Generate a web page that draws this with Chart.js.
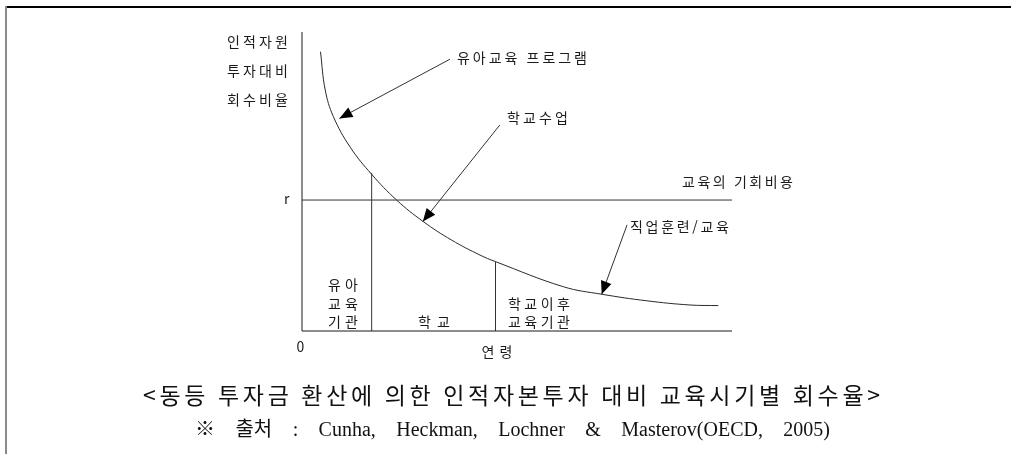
<!DOCTYPE html>
<html lang="ko">
<head>
<meta charset="utf-8">
<title>동등 투자금 환산에 의한 인적자본투자 대비 교육시기별 회수율</title>
<script src="https://cdn.jsdelivr.net/npm/chart.js@4/dist/chart.umd.min.js"></script>
<style>
  html, body { margin: 0; padding: 0; background: #fff; }
  #wrap { position: relative; width: 1011px; height: 454px; }
</style>
</head>
<body>
<div id="wrap"><canvas id="chart"></canvas></div>
<script>
// 연령(x) / 회수비율(y) : 0~100 임의 단위, 그림에서 읽은 값
const curveAge = [4.3, 5.4, 7.3, 11.2, 16.2, 22.0, 28.2, 34.8, 41.4, 45.0, 60.8, 69.7, 80.2, 90.2, 96.8];
const curveReturn = [93.4, 80.6, 71.7, 61.5, 52.4, 43.8, 36.6, 30.4, 25.4, 23.2, 14.8, 12.3, 10.1, 8.7, 8.5];

const opportunityCost = 43.8;           // r
const stageBounds = [16.2, 45.0];       // 유아교육기관 | 학교 | 학교이후
const stageBoundTops = [52.9, 23.2];

const arrowTails = [[34.4, 90.9], [46.0, 68.9], [75.6, 35.5]];
const arrowTips = [[8.7, 71.1], [28.1, 36.6], [69.7, 12.3]];
const arrowLabels = ['유아교육 프로그램', '학교수업', '직업훈련/교육'];

const yTitle = ['인적자원', '투자대비', '회수비율'];
const xTitle = '연령';
const rLabel = 'r';
const rLineLabel = '교육의 기회비용';
const stageLabels = [['유아', '교육', '기관'], ['학교'], ['학교이후', '교육기관']];
const caption = '<동등 투자금 환산에 의한 인적자본투자 대비 교육시기별 회수율>';
const source = '※ 출처 : Cunha, Heckman, Lochner & Masterov(OECD, 2005)';

const AX_MAX = 100;
const ink = '#1a1a1a';
const plotFont = '14px "Noto Sans CJK KR", sans-serif';

const line = (pts, color, extra) => Object.assign({
    data: pts,
    showLine: true,
    borderColor: color,
    borderWidth: 1,
    pointRadius: 0,
    tension: 0,
    clip: false
}, extra || {});

const datasets = [
    // axes
    line([{x: 0, y: 0}, {x: 0, y: AX_MAX}], ink),
    line([{x: 0, y: 0}, {x: AX_MAX, y: 0}], ink),
    // r (교육의 기회비용)
    line([{x: 0, y: opportunityCost}, {x: AX_MAX, y: opportunityCost}], '#333'),
    // 단계 구분선
    ...stageBounds.map((b, i) => line([{x: b, y: 0}, {x: b, y: stageBoundTops[i]}], '#333')),
    // 회수율 곡선
    line(curveAge.map((a, i) => ({x: a, y: curveReturn[i]})), '#2a2a2a', {tension: 0.4})
];
const firstArrow = datasets.length;
arrowTails.forEach((t, i) => {
    datasets.push(line([{x: t[0], y: t[1]}, {x: arrowTips[i][0], y: arrowTips[i][1]}], '#333'));
});

// draw text so that it spans w pixels (by letter or word spacing)
function put(ctx, text, x, y, w, font, align, byWord) {
    ctx.font = font;
    ctx.letterSpacing = '0px';
    ctx.wordSpacing = '0px';
    const m = ctx.measureText(text).width;
    if (w && text.length > 1) {
        if (byWord) {
            const gaps = text.split(' ').length - 1;
            ctx.wordSpacing = ((w - m) / gaps) + 'px';
        } else {
            ctx.letterSpacing = ((w - m) / (text.length - 1)) + 'px';
        }
    } else {
        w = m;
    }
    const left = align === 'center' ? x - w / 2 : x;
    ctx.textAlign = 'left';
    ctx.textBaseline = 'middle';
    ctx.fillText(text, left, y);
    ctx.letterSpacing = '0px';
    ctx.wordSpacing = '0px';
}

const decor = {
    id: 'decor',
    beforeDraw(chart) {
        const ctx = chart.ctx;
        ctx.save();
        ctx.fillStyle = '#fff';
        ctx.fillRect(0, 0, chart.width, chart.height);
        // frame
        ctx.fillStyle = '#000';
        ctx.fillRect(5, 6, chart.width - 5, 2);
        ctx.fillStyle = '#8a8a8a';
        ctx.fillRect(5, 6, 2, chart.height - 6);
        ctx.restore();
    },
    afterDatasetsDraw(chart) {
        const ctx = chart.ctx;
        ctx.save();
        // arrow heads
        ctx.fillStyle = '#000';
        for (let i = 0; i < arrowTips.length; i++) {
            const pts = chart.getDatasetMeta(firstArrow + i).data;
            const a = pts[0], b = pts[1];
            const ang = Math.atan2(b.y - a.y, b.x - a.x);
            const L = 13, H = 5.5;
            ctx.beginPath();
            ctx.moveTo(b.x, b.y);
            ctx.lineTo(b.x - L * Math.cos(ang) + H * Math.sin(ang), b.y - L * Math.sin(ang) - H * Math.cos(ang));
            ctx.lineTo(b.x - L * Math.cos(ang) - H * Math.sin(ang), b.y - L * Math.sin(ang) + H * Math.cos(ang));
            ctx.closePath();
            ctx.fill();
        }

        ctx.fillStyle = ink;
        // y title
        yTitle.forEach((t, i) => put(ctx, t, 227, 42 + i * 29, 61, plotFont));
        // arrow labels
        put(ctx, arrowLabels[0], 457, 58, 130, plotFont);
        put(ctx, arrowLabels[1], 507, 118, 61, plotFont);
        put(ctx, arrowLabels[2], 630, 227, 99, plotFont);
        // r line
        put(ctx, rLabel, 284, 199, 0, plotFont);
        put(ctx, rLineLabel, 682, 182, 111, plotFont);
        // stages
        stageLabels[0].forEach((t, i) => put(ctx, t, 343, 285 + i * 18.5, 30, plotFont, 'center'));
        put(ctx, stageLabels[1][0], 434, 322, 32, plotFont, 'center');
        stageLabels[2].forEach((t, i) => put(ctx, t, 508, 303.5 + i * 18.5, 62, plotFont));
        // origin + x title
        put(ctx, '0', 300.5, 347, 0, plotFont, 'center');
        put(ctx, xTitle, 497, 352, 31, plotFont, 'center');

        // captions
        ctx.fillStyle = '#111';
        put(ctx, caption, 143, 395, 737, '23px "Noto Sans CJK KR", sans-serif');
        put(ctx, source, 195, 431, 635, '20px "Liberation Serif", "Noto Sans CJK KR", serif', null, true);
        ctx.restore();
    }
};

new Chart(document.getElementById('chart'), {
    type: 'scatter',
    data: { datasets: datasets },
    plugins: [decor],
    options: {
        animation: false,
        responsive: true,
        maintainAspectRatio: false,
        events: [],
        layout: { padding: { left: 302, right: 279, top: 32, bottom: 123 } },
        scales: {
            x: { type: 'linear', min: 0, max: AX_MAX, display: false },
            y: { type: 'linear', min: 0, max: AX_MAX, display: false }
        },
        plugins: {
            legend: { display: false },
            tooltip: { enabled: false },
            title: { display: false }
        }
    }
});
</script>
</body>
</html>
